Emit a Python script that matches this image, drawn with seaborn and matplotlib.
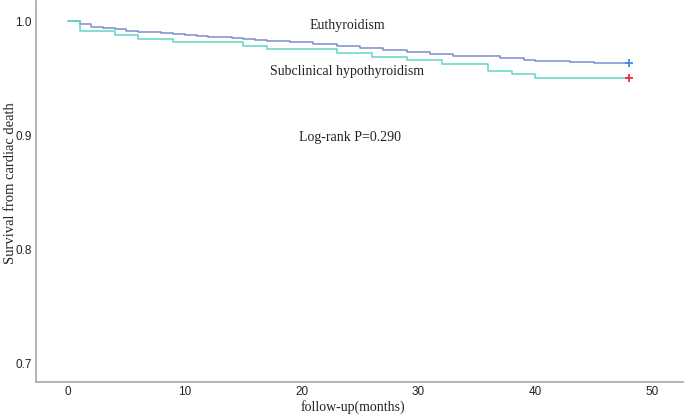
import matplotlib
matplotlib.use("Agg")
import matplotlib.pyplot as plt
import seaborn as sns
import pandas as pd

# Kaplan-Meier step values (months, survival)
euthyroidTime = [0, 1, 2, 3, 4, 5, 6, 8, 9, 10, 11, 12, 13, 14, 15, 16, 17, 19, 21, 23, 25, 27,
                 29, 31, 33, 36, 37, 39, 40, 43, 45, 46, 48]
euthyroidSurv = [1.0, 0.9975, 0.9952, 0.9937, 0.9926, 0.9917, 0.9908, 0.9893, 0.9885, 0.9876,
                 0.9867, 0.9862, 0.9856, 0.9850, 0.9841, 0.9835, 0.9829, 0.9815, 0.9800, 0.9780,
                 0.9768, 0.9748, 0.9727, 0.9713, 0.9698, 0.9690, 0.9680, 0.9663, 0.9652, 0.9642,
                 0.9635, 0.9630, 0.9630]

subclinicalTime = [0, 1, 4, 6, 9, 15, 17, 23, 26, 29, 32, 36, 38, 40, 48]
subclinicalSurv = [1.0, 0.9911, 0.9879, 0.9847, 0.9818, 0.9786, 0.9757, 0.9724, 0.9689, 0.9659,
                   0.9628, 0.9567, 0.9535, 0.9505, 0.9505]

groupNames = ['Euthyroidism', 'Subclinical hypothyroidism']
lineColors = ['#7d8bd0', '#62d6c2']
censorColors = ['#3d8fe0', '#e8303c']

df = pd.concat([
    pd.DataFrame({'time': euthyroidTime, 'surv': euthyroidSurv, 'group': groupNames[0]}),
    pd.DataFrame({'time': subclinicalTime, 'surv': subclinicalSurv, 'group': groupNames[1]}),
])

sns.set_style('white')
fig = plt.figure(figsize=(6.85, 4.15), dpi=100)
ax = fig.add_axes([0.0526, 0.0795, 0.9444, 0.918])

sns.lineplot(data=df, x='time', y='surv', hue='group', palette=lineColors,
             drawstyle='steps-post', linewidth=1.1, legend=False, ax=ax, estimator=None)

# censor markers at the end of follow-up
for name, col in zip(groupNames, censorColors):
    last = df[df['group'] == name].iloc[-1]
    ax.plot(last['time'], last['surv'], marker='+', color=col, markersize=6, mew=1.3)

serif = ['Liberation Serif', 'DejaVu Serif']
ax.text(23.9, 0.9959, 'Euthyroidism', ha='center', va='center', family=serif, fontsize=10, color='#222222')
ax.text(23.9, 0.9558, 'Subclinical hypothyroidism', ha='center', va='center', family=serif, fontsize=10, color='#222222')
ax.text(24.1, 0.898, 'Log-rank P=0.290', ha='center', va='center', family=serif, fontsize=10, color='#222222')

ax.set_xlim(-2.74, 52.65)
ax.set_ylim(0.6842, 1.0175)
ax.set_xticks([0, 10, 20, 30, 40, 50])
ax.set_yticks([0.7, 0.8, 0.9, 1.0])
ax.set_yticklabels(['0.7', '0.8', '0.9', '1.0'])

for lab in ax.get_xticklabels() + ax.get_yticklabels():
    lab.set_family(['Liberation Sans', 'DejaVu Sans'])
    lab.set_fontsize(8.5)
    lab.set_color('#222222')
ax.tick_params(axis='x', length=0, pad=3)
ax.tick_params(axis='y', length=0, pad=3)

ax.set_xlabel('follow-up(months)', family=serif, fontsize=10, color='#222222')
ax.set_ylabel('Survival from cardiac death', family=serif, fontsize=10.5, color='#222222')
ax.xaxis.set_label_coords(0.49, -0.048)
ax.yaxis.set_label_coords(-0.030, 0.522)

sns.despine(ax=ax)
for s in ['left', 'bottom']:
    ax.spines[s].set_color('#a8a8a8')
    ax.spines[s].set_linewidth(1.2)

fig.savefig('out.png', dpi=100)
